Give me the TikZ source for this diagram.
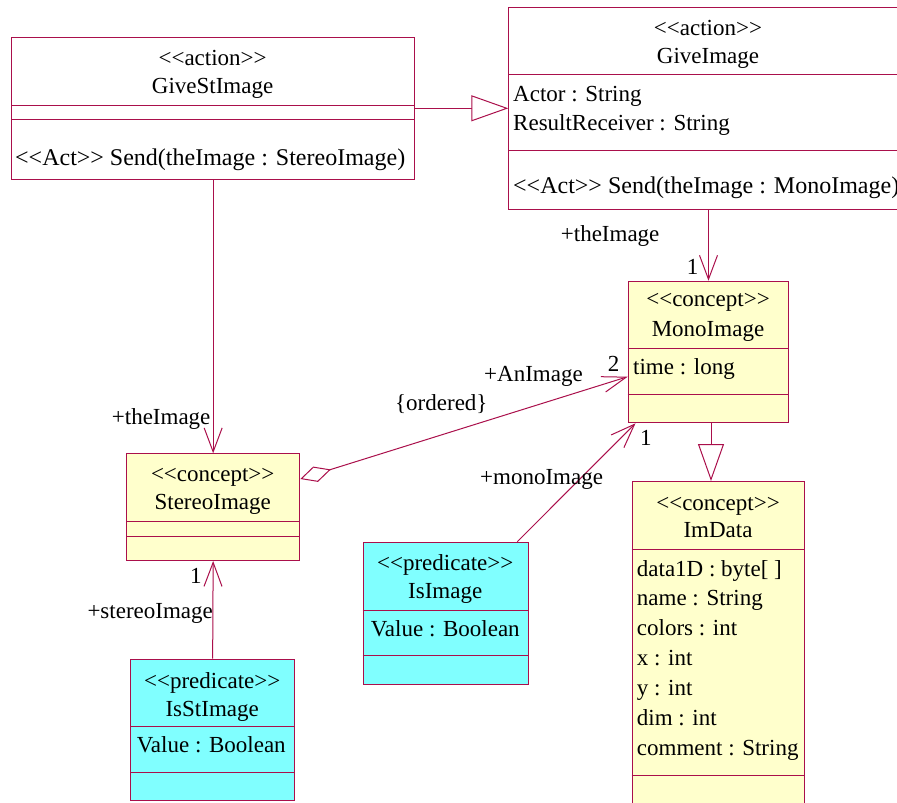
\documentclass[tikz,border=0pt]{standalone}
\usepackage{fontspec}
\setmainfont{Liberation Serif}[Ligatures=TeXOff]
\usetikzlibrary{arrows.meta}
\definecolor{lc}{RGB}{170,15,75}
\definecolor{yel}{RGB}{255,255,204}
\definecolor{cya}{RGB}{128,255,255}
\newcommand\dfs{\fontsize{23}{27}\selectfont}
\newcommand\ofs{\fontsize{24}{28}\selectfont}
\tikzset{
  cbox/.style={draw=lc, line width=1pt, rectangle, inner sep=0pt, anchor=north west},
  div/.style={draw=lc, line width=1pt},
  ctext/.style={font=\dfs, inner sep=0pt, anchor=base},
  atext/.style={font=\dfs, inner sep=0pt, anchor=base west},
  otext/.style={font=\ofs, inner sep=0pt, anchor=base west},
  assoc/.style={draw=lc, line width=1pt, -{Straight Barb[length=24pt,width=18pt,line width=1pt]}},
  gen/.style={draw=lc, line width=1pt, -{Triangle[open,length=37pt,width=26pt,line width=1pt,fill=white]}},
  aggr/.style={draw=lc, line width=1pt, {Diamond[open,length=32pt,width=16pt,line width=1pt,fill=white]}-{Straight Barb[length=24pt,width=16pt,line width=1pt]}},
}
\begin{document}
\begin{tikzpicture}[x=1pt,y=-1pt]
\useasboundingbox (0,0) rectangle (897,803);
\fill[white] (0,0) rectangle (897,803);

% GiveStImage
\node[cbox, fill=white, minimum width=403.3pt, minimum height=141.7pt] (gsi) at (11,37.3) {};
\draw[div] (11,105) -- (414.3,105);
\draw[div] (11,119.3) -- (414.3,119.3);
\node[ctext] (gsit1) at (212.6,65) {<<action>>};
\node[ctext] (gsit2) at (212.6,93.3) {GiveStImage};
\node[otext] (gsio) at (15,165.5) {<<Act>> Send(theImage : StereoImage)};

% GiveImage
\node[cbox, fill=white, minimum width=420pt, minimum height=202pt] (gi) at (508.3,7.3) {};
\draw[div] (508.3,74.3) -- (928.3,74.3);
\draw[div] (508.3,150.7) -- (928.3,150.7);
\node[ctext] (git1) at (708,35) {<<action>>};
\node[ctext] (git2) at (708,63) {GiveImage};
\node[atext] (gia1) at (513,101.7) {Actor : String};
\node[atext] (gia2) at (513,130.7) {ResultReceiver : String};
\node[otext] (gio) at (513,193.5) {<<Act>> Send(theImage : MonoImage)};

% MonoImage
\node[cbox, fill=yel, minimum width=160.6pt, minimum height=141.6pt] (mi) at (627.7,280.7) {};
\draw[div] (627.7,348.7) -- (788.3,348.7);
\draw[div] (627.7,394) -- (788.3,394);
\node[ctext] (mit1) at (708,306.7) {<<concept>>};
\node[ctext] (mit2) at (708,336.7) {MonoImage};
\node[atext] (mia1) at (633,374.3) {time : long};

% StereoImage
\node[cbox, fill=yel, minimum width=173.3pt, minimum height=106.7pt] (si) at (126,453.3) {};
\draw[div] (126,521.7) -- (299.3,521.7);
\draw[div] (126,536.7) -- (299.3,536.7);
\node[ctext] (sit1) at (212.7,481.7) {<<concept>>};
\node[ctext] (sit2) at (212.7,509.3) {StereoImage};

% IsImage
\node[cbox, fill=cya, minimum width=165pt, minimum height=142.6pt] (ii) at (362.7,541.7) {};
\draw[div] (362.7,610) -- (527.7,610);
\draw[div] (362.7,655.7) -- (527.7,655.7);
\node[ctext] (iit1) at (445.2,570.7) {<<predicate>>};
\node[ctext] (iit2) at (445.2,598.3) {IsImage};
\node[atext] (iia1) at (370.7,636) {Value : Boolean};

% ImData
\node[cbox, fill=yel, minimum width=172.6pt, minimum height=350pt] (imd) at (631.7,481) {};
\draw[div] (631.7,549) -- (804.3,549);
\draw[div] (631.7,775.7) -- (804.3,775.7);
\node[ctext] (imt1) at (718,510) {<<concept>>};
\node[ctext] (imt2) at (718,537.7) {ImData};
\node[atext] (ima1) at (636.7,576.7) {data1D : byte[ ]};
\node[atext] (ima2) at (636.7,605) {name : String};
\node[atext] (ima3) at (636.7,635) {colors : int};
\node[atext] (ima4) at (636.7,665) {x : int};
\node[atext] (ima5) at (636.7,695) {y : int};
\node[atext] (ima6) at (636.7,725) {dim : int};
\node[atext] (ima7) at (636.7,755) {comment : String};

% IsStImage
\node[cbox, fill=cya, minimum width=164.3pt, minimum height=141.3pt] (isi) at (130,658.7) {};
\draw[div] (130,726.7) -- (294.3,726.7);
\draw[div] (130,772) -- (294.3,772);
\node[ctext] (isit1) at (212.2,688.3) {<<predicate>>};
\node[ctext] (isit2) at (212.2,716) {IsStImage};
\node[atext] (isia1) at (136.7,752.7) {Value : Boolean};

% connectors
\draw[gen] (gsi.east |- 0,108.3) -- (gi.west |- 0,108.3);
\draw[assoc] (gsi.south) -- (si.north);
\draw[assoc] (mi.north |- gi.south) -- (mi.north);
\draw[aggr] (si.east |- 0,479) -- (mi.west |- 0,376.7);
\draw[assoc] (ii.north -| 517.3,0) -- (mi.south -| 635.5,0);
\draw[gen] (mi.south -| 711,0) -- (imd.north -| 711,0);
\draw[assoc] (isi.north) -- (si.south);

% labels
\node[atext] (l1) at (111.7,424.3) {+theImage};
\node[atext] (l2) at (560.7,241.7) {+theImage};
\node[atext] (l3) at (686.7,274) {1};
\node[atext] (l4) at (484,381) {+AnImage};
\node[atext] (l5) at (607.7,371.7) {2};
\node[atext] (l6) at (395,410) {\{ordered\}};
\node[atext] (l7) at (480,484.3) {+monoImage};
\node[atext] (l8) at (640,445) {1};
\node[atext] (l9) at (190,583.3) {1};
\node[atext] (l10) at (87.3,618.3) {+stereoImage};
\end{tikzpicture}
\end{document}
